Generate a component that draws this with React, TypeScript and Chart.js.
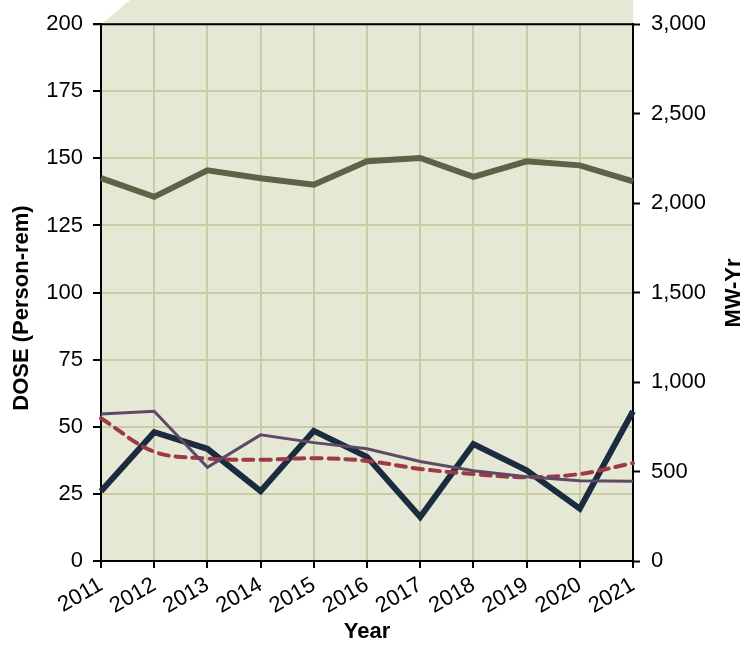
import React, { useEffect, useRef } from "react";
import { Chart, registerables } from "chart.js";

Chart.register(...registerables);

const years = ["2011", "2012", "2013", "2014", "2015", "2016", "2017", "2018", "2019", "2020", "2021"];
const mwYr = [2140, 2035, 2183, 2139, 2103, 2234, 2252, 2147, 2234, 2211, 2122];
const doseSite = [26, 48, 41.8, 26, 48.5, 38.8, 16.4, 43.6, 33.8, 19.5, 55.8];
const doseAvgA = [54.8, 55.8, 34.9, 47, 44.1, 41.8, 37.1, 33.6, 31.4, 29.9, 29.7];
const doseAvgB = [53.2, 40.7, 38.2, 37.7, 38.3, 37.3, 34.3, 32.4, 31.2, 32.4, 36.5];
const doseTicks = [0, 25, 50, 75, 100, 125, 150, 175, 200];
const mwTicks = [0, 500, 1000, 1500, 2000, 2500, 3000];

const FONT = "'Liberation Sans', Arial, sans-serif";
const BG = "#e5e8d4";
const GRID = "#c9cca4";

const decorPlugin = {
  id: "decor",
  beforeDraw(chart: any) {
    const { ctx, chartArea } = chart;
    const { left, right, top, bottom } = chartArea;
    ctx.save();
    ctx.fillStyle = BG;
    ctx.beginPath();
    ctx.moveTo(left, bottom);
    ctx.lineTo(left, top);
    ctx.lineTo(left + 29, 0);
    ctx.lineTo(right, 0);
    ctx.lineTo(right, bottom);
    ctx.closePath();
    ctx.fill();
    ctx.restore();
  },
  afterDraw(chart: any) {
    const { ctx, chartArea } = chart;
    const { left, right, top } = chartArea;
    ctx.save();
    ctx.strokeStyle = "#000";
    ctx.lineWidth = 2;
    ctx.beginPath();
    ctx.moveTo(left - 8, top);
    ctx.lineTo(right + 1, top);
    ctx.stroke();
    ctx.fillStyle = "#000";
    ctx.font = `bold 22px ${FONT}`;
    ctx.textAlign = "center";
    ctx.textBaseline = "middle";
    ctx.fillText("Year", (left + right) / 2, 632);
    ctx.save();
    ctx.translate(22, 308);
    ctx.rotate(-Math.PI / 2);
    ctx.fillText("DOSE (Person-rem)", 0, 0);
    ctx.restore();
    ctx.save();
    ctx.translate(734, 293);
    ctx.rotate(-Math.PI / 2);
    ctx.fillText("MW-Yr", 0, 0);
    ctx.restore();
    ctx.restore();
  },
};

export default function App() {
  const ref = useRef<HTMLCanvasElement | null>(null);
  useEffect(() => {
    if (!ref.current) return;
    const tickFont = { family: FONT, size: 22 };
    const chart = new Chart(ref.current, {
      type: "line",
      data: {
        labels: years,
        datasets: [
          {
            label: "Dose A",
            data: doseAvgA,
            yAxisID: "y",
            borderColor: "#5e4a66",
            borderWidth: 3,
            pointRadius: 0,
            tension: 0,
          },
          {
            label: "Dose B",
            data: doseAvgB,
            yAxisID: "y",
            borderColor: "#9e3a45",
            borderWidth: 4,
            borderDash: [10, 7],
            borderCapStyle: "round",
            pointRadius: 0,
            tension: 0.35,
          },
          {
            label: "Site dose",
            data: doseSite,
            yAxisID: "y",
            borderColor: "#1b2b40",
            borderWidth: 6,
            pointRadius: 0,
            tension: 0,
          },
          {
            label: "MW-Yr",
            data: mwYr,
            yAxisID: "y1",
            borderColor: "#5e6347",
            borderWidth: 6,
            pointRadius: 0,
            tension: 0,
          },
        ],
      },
      options: {
        responsive: false,
        animation: false,
        layout: { padding: { top: 20, left: 0, right: 0, bottom: 0 } },
        plugins: { legend: { display: false }, tooltip: { enabled: false } },
        scales: {
          x: {
            type: "category",
            offset: false,
            afterFit: (s: any) => { s.height = 85; },
            grid: { color: GRID, lineWidth: 2, tickColor: "#000", tickLength: 7, tickWidth: 2 },
            border: { color: "#000", width: 2 },
            ticks: {
              color: "#000",
              font: tickFont,
              minRotation: 30,
              maxRotation: 30,
              autoSkip: false,
              padding: 4,
            },
          },
          y: {
            position: "left",
            min: 0,
            max: 200,
            afterFit: (s: any) => { s.width = 101; },
            afterBuildTicks: (s: any) => { s.ticks = doseTicks.map((v) => ({ value: v })); },
            grid: { color: GRID, lineWidth: 2, tickColor: "#000", tickLength: 8, tickWidth: 2 },
            border: { color: "#000", width: 2 },
            ticks: { color: "#000", font: tickFont, padding: 10 },
          },
          y1: {
            position: "right",
            min: 0,
            max: 3000,
            afterFit: (s: any) => { s.width = 119; },
            afterBuildTicks: (s: any) => { s.ticks = mwTicks.map((v) => ({ value: v })); },
            grid: { drawOnChartArea: false, tickColor: "#000", tickLength: 7, tickWidth: 2 },
            border: { color: "#000", width: 2 },
            ticks: {
              color: "#000",
              font: tickFont,
              padding: 11,
              callback: (v: any) => Number(v).toLocaleString("en-US"),
            },
          },
        },
      },
      plugins: [decorPlugin],
    } as any);
    return () => chart.destroy();
  }, []);
  return (
    <div style={{ position: "fixed", left: 0, top: 0, width: 752, height: 646, background: "#fff" }}>
      <canvas ref={ref} width={752} height={646} />
    </div>
  );
}
